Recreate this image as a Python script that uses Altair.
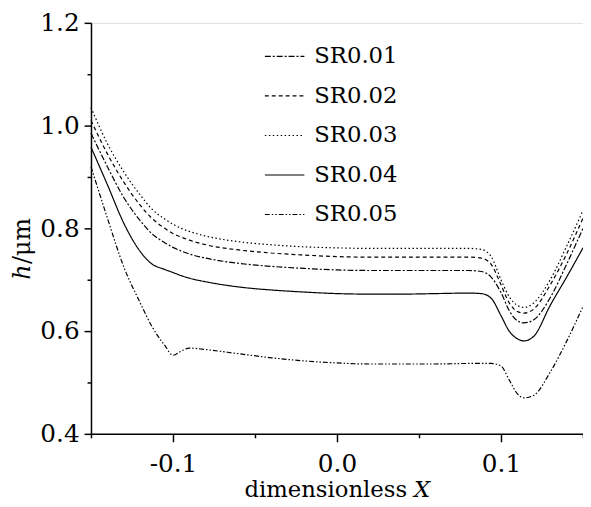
import altair as alt
import pandas as pd

# ---- data ----
X = [-0.15, -0.14, -0.13, -0.12, -0.113, -0.105, -0.1, -0.095, -0.09, -0.08,
     -0.06, -0.04, -0.02, 0.0, 0.02, 0.04, 0.06, 0.08, 0.088, 0.094,
     0.1, 0.105, 0.11, 0.114, 0.12, 0.13, 0.14, 0.15]

SR001 = [0.985, 0.92, 0.86, 0.815, 0.79, 0.772, 0.763, 0.756, 0.750, 0.742,
         0.732, 0.726, 0.722, 0.719, 0.718, 0.718, 0.718, 0.718, 0.716, 0.705,
         0.675, 0.64, 0.62, 0.616, 0.622, 0.665, 0.73, 0.80]
SR002 = [1.01, 0.945, 0.89, 0.845, 0.82, 0.80, 0.79, 0.783, 0.777, 0.768,
         0.758, 0.752, 0.748, 0.745, 0.744, 0.744, 0.744, 0.744, 0.742, 0.73,
         0.69, 0.655, 0.638, 0.635, 0.643, 0.69, 0.75, 0.82]
SR003 = [1.035, 0.965, 0.91, 0.865, 0.838, 0.818, 0.808, 0.80, 0.794, 0.785,
         0.774, 0.768, 0.764, 0.762, 0.761, 0.761, 0.761, 0.761, 0.759, 0.745,
         0.70, 0.667, 0.65, 0.646, 0.655, 0.70, 0.765, 0.835]
SR004 = [0.958, 0.885, 0.81, 0.755, 0.731, 0.72, 0.714, 0.708, 0.703, 0.696,
         0.686, 0.680, 0.676, 0.673, 0.672, 0.672, 0.673, 0.674, 0.673, 0.664,
         0.63, 0.60, 0.585, 0.581, 0.59, 0.65, 0.705, 0.762]
SR005 = [0.92, 0.82, 0.725, 0.655, 0.61, 0.572, 0.553, 0.561, 0.567, 0.564,
         0.556, 0.548, 0.542, 0.538, 0.536, 0.536, 0.536, 0.537, 0.537, 0.537,
         0.532, 0.505, 0.478, 0.47, 0.475, 0.52, 0.58, 0.648]

series_names = ["SR0.01", "SR0.02", "SR0.03", "SR0.04", "SR0.05"]
series_values = [SR001, SR002, SR003, SR004, SR005]
dashes = [[6, 2, 2, 2], [4, 3], [1.5, 2.5], [1, 0], [5, 2, 1.5, 2, 1.5, 2]]

x_ticks = [-0.15, -0.1, -0.05, 0.0, 0.05, 0.1, 0.15]
y_ticks = [0.4, 0.5, 0.6, 0.7, 0.8, 0.9, 1.0, 1.1, 1.2]

x_title_main = "dimensionless"
x_title_var = "X"
y_title_var = "h"
y_title_unit = "/\u03bcm"

FONT = "DejaVu Serif"

rows = []
for name, vals in zip(series_names, series_values):
    for xv, yv in zip(X, vals):
        rows.append({"X": xv, "h": yv, "series": name})
df = pd.DataFrame(rows)

x_major_test = "abs(round(datum.value*10) - datum.value*10) < 0.001"
y_major_test = "abs(round(datum.value*5) - datum.value*5) < 0.001"

x_axis = alt.Axis(
    values=x_ticks, title=None, grid=False,
    labelExpr=f"({x_major_test}) ? (datum.value < 0 ? '-' + format(-datum.value, '.1f') : format(datum.value, '.1f')) : ''",
    labelFont=FONT, labelFontSize=25, labelColor="black", labelPadding=10,
    domainColor="black", domainWidth=1.5, tickColor="black", tickWidth=1.5,
    tickSize={"condition": {"test": x_major_test, "value": 8}, "value": 4},
    labelFlush=False, labelOverlap=False,
)
y_axis = alt.Axis(
    values=y_ticks, title=None, grid=False,
    labelExpr=f"({y_major_test}) ? format(datum.value, '.1f') : ''",
    labelFont=FONT, labelFontSize=25, labelColor="black", labelPadding=5,
    domainColor="black", domainWidth=1.5, tickColor="black", tickWidth=1.5,
    tickSize={"condition": {"test": y_major_test, "value": 7}, "value": 4},
    labelFlush=False, labelOverlap=False,
)

lines = alt.Chart(df).mark_line(strokeWidth=1.2, color="black", interpolate="monotone").encode(
    x=alt.X("X:Q", scale=alt.Scale(domain=[-0.15, 0.15], nice=False, zero=False), axis=x_axis),
    y=alt.Y("h:Q", scale=alt.Scale(domain=[0.4, 1.2], nice=False, zero=False), axis=y_axis),
    strokeDash=alt.StrokeDash(
        "series:N",
        scale=alt.Scale(domain=series_names, range=dashes),
        legend=alt.Legend(
            title=None, orient="none", legendX=175, legendY=13,
            labelFont=FONT, labelFontSize=23, labelColor="black", labelOffset=9,
            symbolType="stroke", symbolSize=1600, symbolStrokeWidth=1.2,
            symbolStrokeColor="black", rowPadding=7, labelLimit=200,
        ),
    ),
    detail="series:N",
)

t1 = alt.Chart(pd.DataFrame({"t": [x_title_main]})).mark_text(
    font=FONT, fontSize=23, align="right", baseline="alphabetic", color="black"
).encode(text="t:N", x=alt.value(320), y=alt.value(480))
t2 = alt.Chart(pd.DataFrame({"t": [x_title_var]})).mark_text(
    font=FONT, fontSize=23, fontStyle="italic", align="left", baseline="alphabetic", color="black"
).encode(text="t:N", x=alt.value(327), y=alt.value(480))
t3 = alt.Chart(pd.DataFrame({"t": [y_title_var]})).mark_text(
    font=FONT, fontSize=24, fontStyle="italic", align="left", baseline="alphabetic", angle=270, color="black"
).encode(text="t:N", x=alt.value(-62), y=alt.value(260))
t4 = alt.Chart(pd.DataFrame({"t": [y_title_unit]})).mark_text(
    font=FONT, fontSize=24, align="left", baseline="alphabetic", angle=270, color="black"
).encode(text="t:N", x=alt.value(-62), y=alt.value(244))

chart = alt.layer(lines, t1, t2, t3, t4).properties(
    width=498, height=416,
    autosize=alt.AutoSizeParams(type="none"),
    padding={"left": 84, "top": 12, "right": 0, "bottom": 70},
).configure_view(stroke=None).configure(background="white")

chart.save("out.html", embed_options={"renderer": "svg", "actions": False})
